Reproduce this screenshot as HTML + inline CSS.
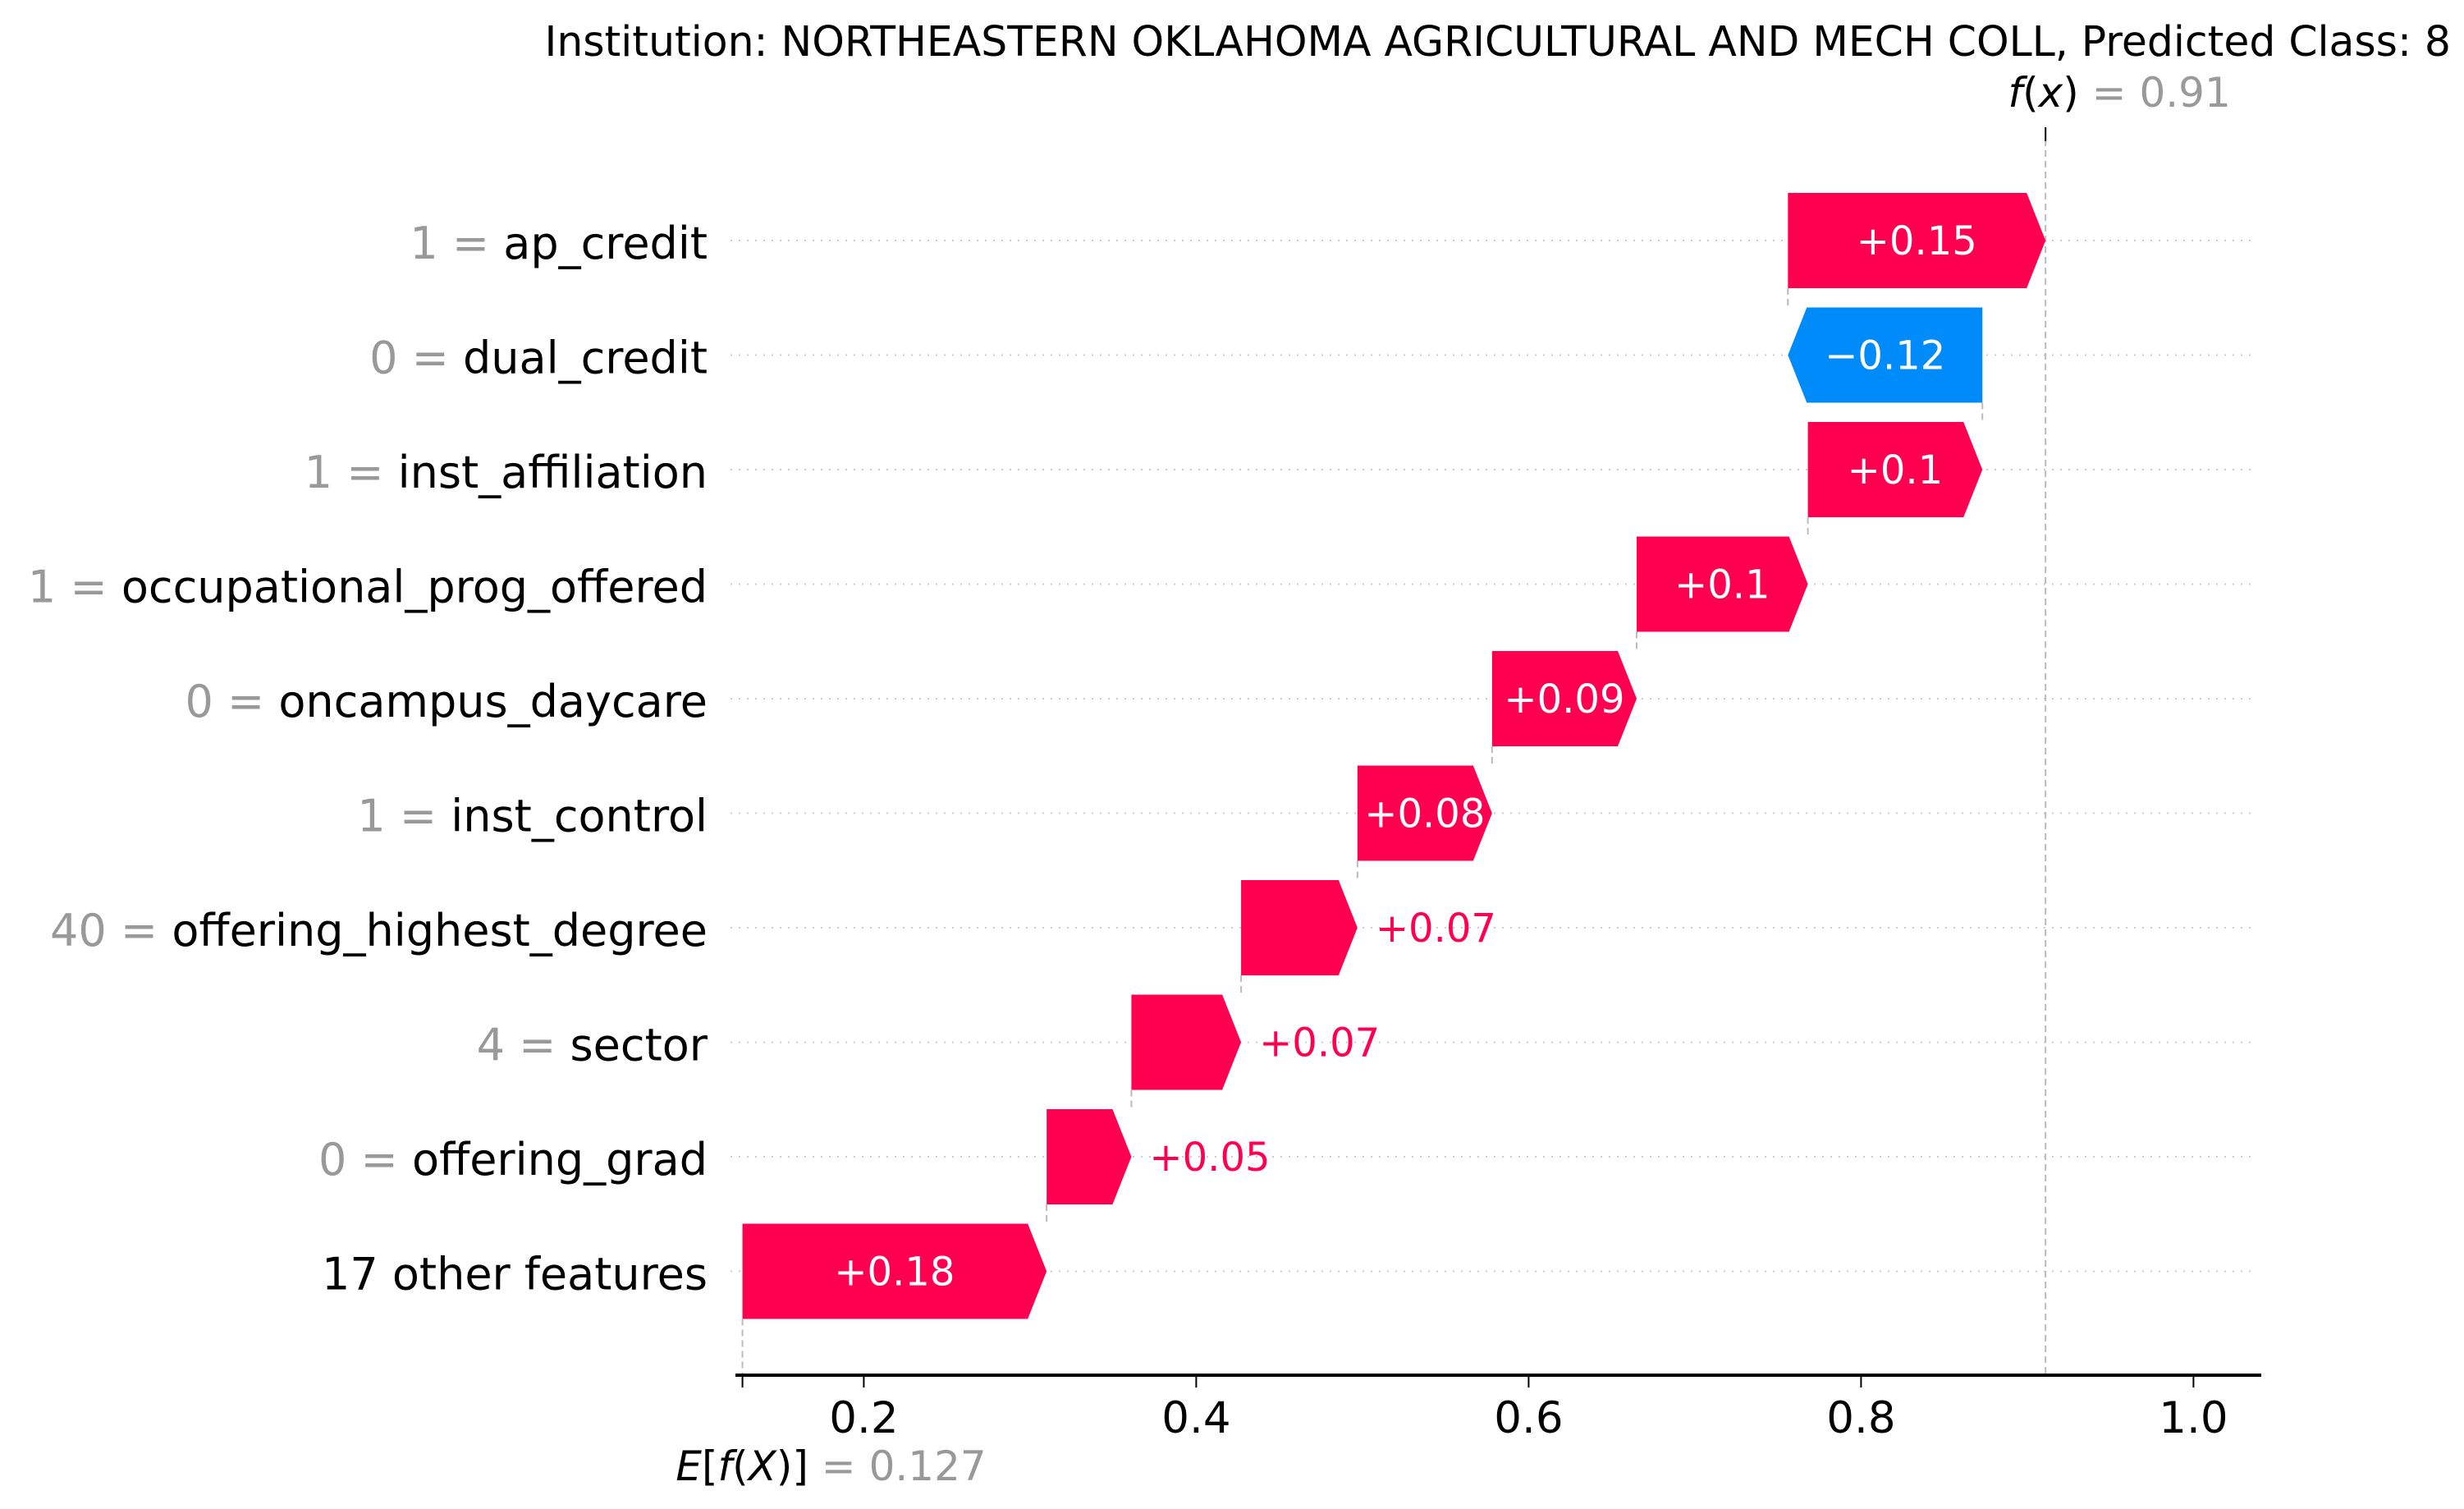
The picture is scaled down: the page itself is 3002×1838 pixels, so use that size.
<!DOCTYPE html>
<html><head><meta charset="utf-8"><style>
html,body{margin:0;padding:0;background:#fff;}
svg{display:block;}
text{font-family:"DejaVu Sans","Liberation Sans",sans-serif;}
</style></head>
<body>
<svg id="chart" width="3002" height="1838" viewBox="0 0 3002 1838" xmlns="http://www.w3.org/2000/svg">
<text x="2986" y="68" font-size="50.4" text-anchor="end" fill="#000">Institution: NORTHEASTERN OKLAHOMA AGRICULTURAL AND MECH COLL, Predicted Class: 8</text>
<g id="grid"></g><g id="conn"></g><g id="bars"></g><g id="labels"></g><g id="axis"></g>
</svg>
<script>
const featureNames = ["ap_credit","dual_credit","inst_affiliation","occupational_prog_offered","oncampus_daycare","inst_control","offering_highest_degree","sector","offering_grad","17 other features"];
const featureValues = ["1","0","1","1","0","1","40","4","0",""];
const shapValues = [0.155,-0.117,0.105,0.103,0.087,0.081,0.070,0.066,0.051,0.183];
const shapLabels = ["+0.15","\u22120.12","+0.1","+0.1","+0.09","+0.08","+0.07","+0.07","+0.05","+0.18"];
const baseValue = 0.127;
const baseLabel = "0.127";
const fxLabel = "0.91";
const xTicks = [0.2,0.4,0.6,0.8,1.0];
const xTickLabels = ["0.2","0.4","0.6","0.8","1.0"];

const NS="http://www.w3.org/2000/svg";
const X0=647.4, XS=2025;
const xs=v=>X0+v*XS;
const ys=i=>293+i*139.5;
const HALF=58, HEAD=23;
const RED="#ff0051", BLUE="#008bfb";
function mk(tag,attrs,parent,txt){const e=document.createElementNS(NS,tag);for(const k in attrs)e.setAttribute(k,attrs[k]);if(txt!==undefined)e.textContent=txt;parent.appendChild(e);return e;}
const G=id=>document.getElementById(id);

const n=shapValues.length;
const starts=new Array(n), ends=new Array(n);
let cur=baseValue;
for(let i=n-1;i>=0;i--){starts[i]=cur;cur+=shapValues[i];ends[i]=cur;}
const fx=cur;

for(let i=0;i<n;i++){
  const y=ys(i);
  const gl=mk('line',{x1:890,x2:2745,y1:y,y2:y,stroke:'#ccc','stroke-width':2,'stroke-dasharray':'2,8'},G('grid'));
  
  
  const t=mk('text',{x:862,y:y+22,'font-size':54,'text-anchor':'end'},G('labels'));
  
  
  if(featureValues[i]!==""){mk('tspan',{fill:'#999'},t,featureValues[i]+" = ");}
  mk('tspan',{fill:'#000'},t,featureNames[i]);
  const a=xs(starts[i]), b=xs(ends[i]);
  const w=Math.abs(b-a), h=Math.min(HEAD,w);
  let pts;
  if(shapValues[i]>=0){pts=[[a,y-HALF],[b-h,y-HALF],[b,y],[b-h,y+HALF],[a,y+HALF]];}
  else{pts=[[a,y-HALF],[b+h,y-HALF],[b,y],[b+h,y+HALF],[a,y+HALF]];}
  const col=shapValues[i]>=0?RED:BLUE;
  const p=mk('polygon',{points:pts.map(q=>q.join(',')).join(' '),fill:col},G('bars'));
  
  
  let vl;
  if(w>155){
    vl=mk('text',{x:(a+b)/2,y:y+17,'font-size':48,'text-anchor':'middle',fill:'#fff'},G('labels'),shapLabels[i]);
  }else{
    vl=mk('text',{x:Math.max(a,b)+22,y:y+17,'font-size':48,'text-anchor':'start',fill:col},G('labels'),shapLabels[i]);
  }
  
  
  const c=mk('line',{x1:a,x2:a,y1:y+HALF,y2:(i<n-1?ys(i+1)-HALF:1675),stroke:'#bbb','stroke-width':2,'stroke-dasharray':'8,5'},G('conn'));
  
  
}
const fl=mk('line',{x1:xs(fx),x2:xs(fx),y1:170,y2:1675,stroke:'#bbb','stroke-width':2,'stroke-dasharray':'8,5'},G('conn'));


const ft=mk('line',{x1:xs(fx),x2:xs(fx),y1:155,y2:172,stroke:'#000','stroke-width':2},G('axis'));


const fxt=mk('text',{x:xs(fx)+90,y:130,'font-size':50,'text-anchor':'middle'},G('axis'));


mk('tspan',{fill:'#000','font-style':'italic'},fxt,'f');
mk('tspan',{fill:'#000'},fxt,'(');
mk('tspan',{fill:'#000','font-style':'italic'},fxt,'x');
mk('tspan',{fill:'#000'},fxt,')');
mk('tspan',{fill:'#999'},fxt,' = '+fxLabel);

const ax=mk('line',{x1:896,x2:2755,y1:1675,y2:1675,stroke:'#000','stroke-width':4},G('axis'));


for(let k=0;k<xTicks.length;k++){
  const x=xs(xTicks[k]);
  const tl=mk('line',{x1:x,x2:x,y1:1675,y2:1690,stroke:'#000','stroke-width':2},G('axis'));
  
  
  const tt=mk('text',{x:x,y:1745,'font-size':53,'text-anchor':'middle',fill:'#000'},G('axis'),xTickLabels[k]);
  
  
}
const et=mk('line',{x1:xs(baseValue),x2:xs(baseValue),y1:1675,y2:1690,stroke:'#000','stroke-width':2},G('axis'));


const el=mk('text',{x:xs(baseValue)+108,y:1803,'font-size':50,'text-anchor':'middle'},G('axis'));


mk('tspan',{fill:'#000','font-style':'italic'},el,'E');
mk('tspan',{fill:'#000'},el,'[');
mk('tspan',{fill:'#000','font-style':'italic'},el,'f');
mk('tspan',{fill:'#000'},el,'(');
mk('tspan',{fill:'#000','font-style':'italic'},el,'X');
mk('tspan',{fill:'#000'},el,')]');
mk('tspan',{fill:'#999'},el,' = '+baseLabel);
</script>
</body></html>
